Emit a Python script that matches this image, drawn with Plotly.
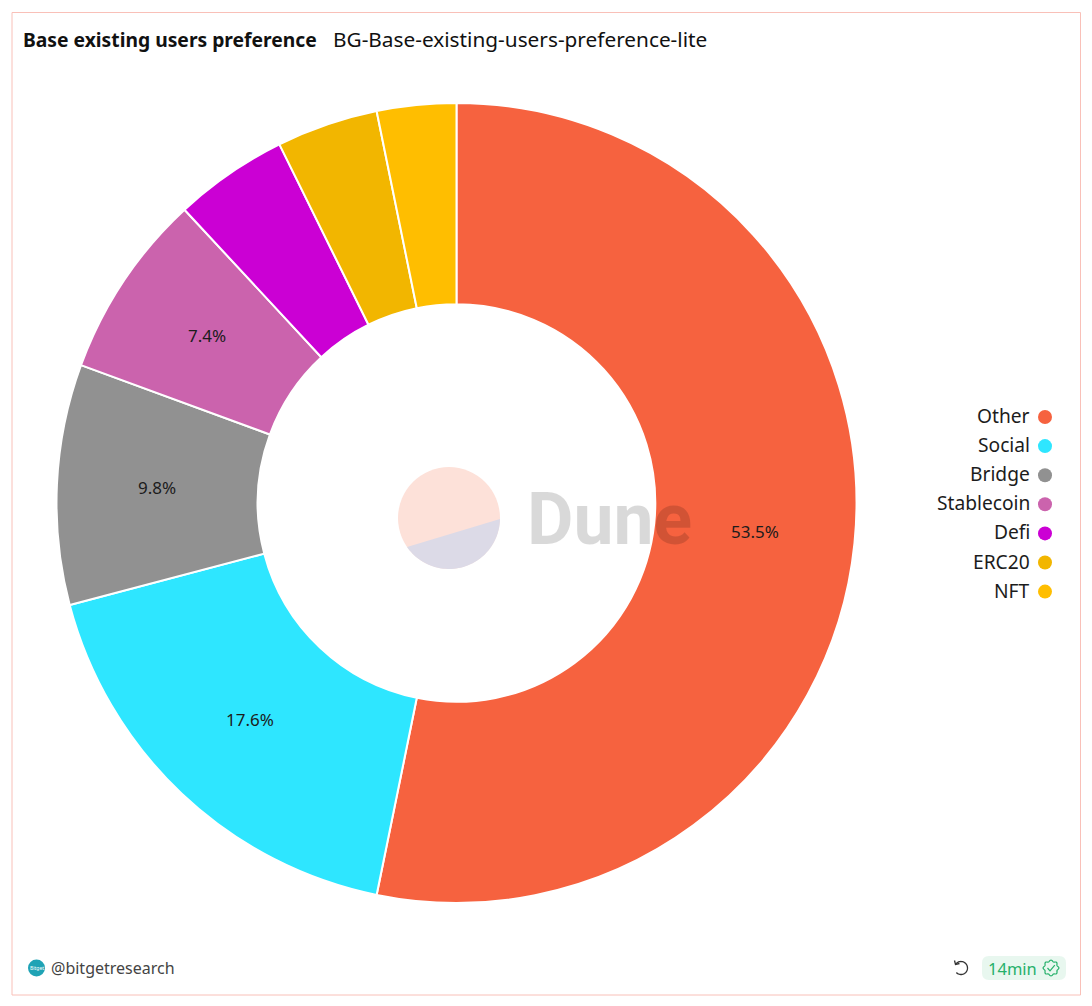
import numpy as np
import plotly.graph_objects as go

W, H = 1092, 1006
categories = ["Other", "Social", "Bridge", "Stablecoin", "Defi", "ERC20", "NFT"]
values = [53.2, 17.7, 9.7, 7.5, 4.6, 4.1, 3.2]
# percentages as printed on the slices (small slices carry no label)
printed = ["53.5%", "17.6%", "9.8%", "7.4%", "", "", ""]
colors = ["#f6623f", "#2ee6ff", "#919191", "#cb63ad", "#cb00d4", "#f2b600", "#ffbe00"]
FONT = "Noto Sans"
INK = "#1c1c1c"
CX, CY, R = 456.5, 503, 400

def dom(x0, x1, y0, y1):
    return dict(x=[x0 / W, x1 / W], y=[1 - y1 / H, 1 - y0 / H])

fig = go.Figure()
fig.add_trace(go.Pie(
    labels=categories, values=values, sort=False, direction="clockwise", rotation=0,
    hole=0.497, marker=dict(colors=colors, line=dict(color="white", width=2)),
    textinfo="none", domain=dom(CX - R, CX + R, CY - R, CY + R),
    showlegend=False, hoverinfo="label+percent",
))
# marker column of the right-hand legend
legend_y = [417 + 29.1 * i for i in range(len(categories))]
fig.add_trace(go.Scatter(
    x=[1045] * len(categories), y=legend_y, mode="markers",
    marker=dict(size=14, color=colors), showlegend=False, hoverinfo="skip",
))

def poly(pts, close=False):
    return "M" + " L".join(f"{x:.2f},{y:.2f}" for x, y in pts) + (" Z" if close else "")

def rrect(x0, y0, x1, y1, r):
    return (f"M{x0+r},{y0} L{x1-r},{y0} Q{x1},{y0} {x1},{y0+r} L{x1},{y1-r} Q{x1},{y1} {x1-r},{y1} "
            f"L{x0+r},{y1} Q{x0},{y1} {x0},{y1-r} L{x0},{y0+r} Q{x0},{y0} {x0+r},{y0} Z")

t = np.linspace(0, 2 * np.pi, 97)
seal_r = 7.2 + 0.7 * np.cos(8 * t)
seal = np.c_[1051 + seal_r * np.sin(t), 968 - seal_r * np.cos(t)]
a = np.radians(np.linspace(-50, 225, 40))
ring = np.c_[961 + 6.5 * np.sin(a), 968 - 6.5 * np.cos(a)]
seg = np.radians(np.linspace(91.1, 235.4, 60))
segment = np.c_[449 + 51 * np.sin(seg), 518 - 51 * np.cos(seg)]

shapes = [
    dict(type="rect", x0=12, x1=1080.5, y0=12.5, y1=995, line=dict(color="#f9c0b8", width=1)),
    dict(type="circle", x0=398, x1=500, y0=467, y1=569, fillcolor="#fde1d9", line=dict(width=0)),
    dict(type="path", path=poly(segment, True), fillcolor="#dcdae7", line=dict(width=0)),
    dict(type="circle", x0=28, x1=45, y0=959.5, y1=976.5, fillcolor="#1fa3b5", line=dict(width=0)),
    dict(type="path", path=rrect(982, 956, 1066, 980, 7), fillcolor="#e8f7ef", line=dict(width=0)),
    dict(type="path", path=poly(seal), line=dict(color="#25b06a", width=1.2)),
    dict(type="path", path=poly([(1047.5, 968), (1050, 970.8), (1054.8, 965.2)]), line=dict(color="#25b06a", width=1.2)),
    dict(type="path", path=poly(ring), line=dict(color="#333333", width=1.3)),
    dict(type="path", path=poly([(954.5, 960.5), (955.5, 964.5), (959.5, 963.5)]), line=dict(color="#333333", width=1.3)),
]

def note(x, y, text, size, color, anchor="left", family=FONT):
    return dict(x=x, y=y, text=text, showarrow=False, xanchor=anchor, yanchor="middle",
                font=dict(size=size, color=color, family=family), xref="x", yref="y")

annotations = [
    note(21, 39, "<b>Base existing users preference</b>", 19.3, "#111111"),
    note(331, 39, "BG-Base-existing-users-preference-lite", 20.8, "#111111"),
    note(525, 519, "<b>Dune</b>", 71.5, "rgba(0,0,0,0.15)", family="Roboto"),
    note(49, 968, "@bitgetresearch", 16, "#444444"),
    note(36.5, 968, "Bitget", 5, "#ffffff", anchor="center"),
    note(986, 968, "14min", 16.5, "#25b06a"),
]
# slice labels sit at the middle of the ring, at each slice's mid-angle
mid = (np.cumsum(values) - np.array(values) / 2) / sum(values) * 2 * np.pi
for ang, lab in zip(mid, printed):
    if lab:
        annotations.append(note(CX + 0.75 * R * np.sin(ang), CY - 0.75 * R * np.cos(ang) - 1.5,
                                lab, 17, INK, anchor="center"))
for name, y in zip(categories, legend_y):
    annotations.append(note(1032, y - 1.5, name, 19.2, INK, anchor="right"))

fig.update_layout(
    width=W, height=H, margin=dict(l=0, r=0, t=0, b=0, pad=0),
    paper_bgcolor="white", plot_bgcolor="rgba(0,0,0,0)", showlegend=False,
    xaxis=dict(range=[0, W], visible=False, fixedrange=True),
    yaxis=dict(range=[H, 0], visible=False, fixedrange=True),
    shapes=shapes, annotations=annotations, font=dict(family=FONT),
)
fig.write_html("out.html", config={"displayModeBar": False},
               post_script="document.body.style.margin='0';document.documentElement.style.overflow='hidden';")
